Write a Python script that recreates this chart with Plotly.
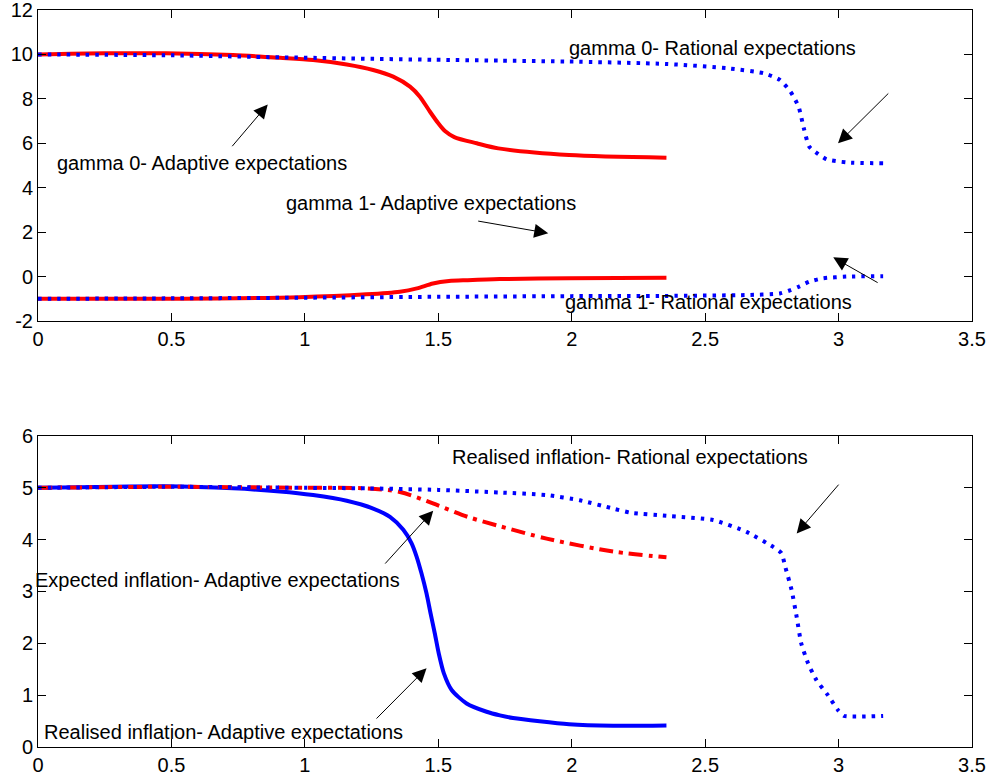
import plotly.graph_objects as go
from plotly.subplots import make_subplots

# ---------- top panel data ----------
g0_ad_x = [0, 0.25, 0.48, 0.73, 0.907, 1.031, 1.157, 1.256, 1.331, 1.394, 1.431, 1.469, 1.50,
           1.525, 1.56, 1.644, 1.725, 1.99, 2.355]
g0_ad_y = [10.0, 10.05, 10.05, 9.97, 9.85, 9.75, 9.55, 9.30, 9.0, 8.55, 8.10, 7.42, 6.9,
           6.55, 6.28, 6.0, 5.77, 5.47, 5.35]

g0_re_x = [0, 0.5, 0.907, 1.481, 1.73, 1.99, 2.355, 2.59, 2.72, 2.78, 2.82, 2.85, 2.87, 2.89, 2.92, 2.955, 3.03, 3.167]
g0_re_y = [10.0, 9.96, 9.87, 9.76, 9.72, 9.68, 9.57, 9.37, 9.15, 8.85, 8.32, 7.65, 6.67, 5.85, 5.55, 5.28, 5.14, 5.1]

g1_ad_x = [0, 0.5, 0.98, 1.23, 1.356, 1.42, 1.48, 1.54, 1.61, 1.73, 1.99, 2.355]
g1_ad_y = [-1.0, -1.0, -0.93, -0.8, -0.68, -0.53, -0.31, -0.2, -0.16, -0.11, -0.08, -0.05]

g1_re_x = [0, 0.5, 1.0, 1.5, 2.0, 2.355, 2.655, 2.78, 2.82, 2.85, 2.89, 2.94, 3.03, 3.167]
g1_re_y = [-1.0, -0.98, -0.95, -0.91, -0.88, -0.87, -0.83, -0.76, -0.61, -0.46, -0.23, -0.08, 0.0, 0.02]

# ---------- bottom panel data ----------
ri_ad_x = [0, 0.48, 0.73, 0.907, 1.031, 1.157, 1.256, 1.319, 1.369, 1.40, 1.419, 1.437, 1.456,
           1.471, 1.487, 1.502, 1.521, 1.550, 1.606, 1.681, 1.731, 1.78, 1.99, 2.155, 2.355]
ri_ad_y = [5.0, 5.03, 4.99, 4.93, 4.86, 4.75, 4.60, 4.44, 4.19, 3.93, 3.67, 3.35, 2.96,
           2.58, 2.19, 1.80, 1.42, 1.10, 0.84, 0.68, 0.61, 0.56, 0.44, 0.41, 0.415]

ei_ad_x = [0, 0.5, 1.0, 1.23, 1.356, 1.48, 1.61, 1.73, 1.906, 2.155, 2.355]
ei_ad_y = [5.0, 5.02, 5.0, 4.99, 4.92, 4.70, 4.44, 4.26, 4.02, 3.77, 3.66]

ri_re_x = [0, 0.5, 1.0, 1.23, 1.5, 1.73, 1.906, 2.03, 2.155, 2.22, 2.355, 2.53, 2.655, 2.755,
           2.786, 2.80, 2.824, 2.843, 2.86, 2.886, 2.917, 2.96, 2.998, 3.02, 3.167]
ri_re_y = [5.0, 5.02, 5.0, 4.99, 4.96, 4.91, 4.86, 4.76, 4.6, 4.52, 4.46, 4.38, 4.15, 3.86,
           3.74, 3.48, 3.03, 2.51, 2.0, 1.61, 1.29, 1.0, 0.71, 0.6, 0.6]

x_ticks = [0, 0.5, 1, 1.5, 2, 2.5, 3, 3.5]
x_tick_text = ["0", "0.5", "1", "1.5", "2", "2.5", "3", "3.5"]
top_y_ticks = [-2, 0, 2, 4, 6, 8, 10, 12]
top_y_text = ["-2", "0", "2", "4", "6", "8", "10", "12"]
bot_y_ticks = [0, 1, 2, 3, 4, 5, 6]
bot_y_text = ["0", "1", "2", "3", "4", "5", "6"]

# labels: (text, x, y)
top_labels = [
    ("gamma 0- Rational expectations", 2.527, 10.29),
    ("gamma 0- Adaptive expectations", 0.616, 5.11),
    ("gamma 1- Adaptive expectations", 1.474, 3.31),
    ("gamma 1- Rational expectations", 2.514, -1.13),
]
# arrows: (tail x, tail y, head x, head y)
top_arrows = [
    (3.192, 8.31, 2.998, 6.0),
    (0.723, 5.80, 0.861, 7.75),
    (1.644, 2.51, 1.912, 1.95),
    (3.152, -0.31, 2.98, 0.865),
]
bot_labels = [
    ("Realised inflation- Rational expectations", 2.218, 5.60),
    ("Expected inflation- Adaptive expectations", 0.674, 3.23),
    ("Realised inflation- Adaptive expectations", 0.696, 0.29),
]
bot_arrows = [
    (3.005, 5.09, 2.843, 4.12),
    (1.296, 3.51, 1.481, 4.56),
    (1.263, 0.52, 1.456, 1.52),
]

RED = "#ff0000"
BLUE = "#0000ff"
FONT = "Liberation Sans, Arial, sans-serif"
FS = 20
DOT = "3.5px,6px"

fig = make_subplots(rows=2, cols=1, vertical_spacing=0.156)

fig.add_trace(go.Scatter(x=g0_ad_x, y=g0_ad_y, mode="lines",
                         line=dict(color=RED, width=4, shape="spline", smoothing=0.8)), row=1, col=1)
fig.add_trace(go.Scatter(x=g1_ad_x, y=g1_ad_y, mode="lines",
                         line=dict(color=RED, width=4, shape="spline", smoothing=0.8)), row=1, col=1)
fig.add_trace(go.Scatter(x=g0_re_x, y=g0_re_y, mode="lines",
                         line=dict(color=BLUE, width=4, dash=DOT, shape="spline", smoothing=0.6)), row=1, col=1)
fig.add_trace(go.Scatter(x=g1_re_x, y=g1_re_y, mode="lines",
                         line=dict(color=BLUE, width=4, dash=DOT, shape="spline", smoothing=0.6)), row=1, col=1)

fig.add_trace(go.Scatter(x=ri_ad_x, y=ri_ad_y, mode="lines",
                         line=dict(color=BLUE, width=4, shape="spline", smoothing=0.7)), row=2, col=1)
fig.add_trace(go.Scatter(x=ei_ad_x, y=ei_ad_y, mode="lines",
                         line=dict(color=RED, width=4, dash="14px,6px,4px,6px", shape="spline", smoothing=0.8)), row=2, col=1)
fig.add_trace(go.Scatter(x=ri_re_x, y=ri_re_y, mode="lines",
                         line=dict(color=BLUE, width=4, dash=DOT, shape="spline", smoothing=0.5)), row=2, col=1)

annotations = []
for (t, x, y) in top_labels:
    annotations.append(dict(text=t, x=x, y=y, xref="x", yref="y", showarrow=False,
                            font=dict(family=FONT, size=FS, color="black")))
for (ax, ay, x, y) in top_arrows:
    annotations.append(dict(text="", x=x, y=y, ax=ax, ay=ay, xref="x", yref="y",
                            axref="x", ayref="y", showarrow=True, arrowhead=2,
                            arrowsize=2.8, arrowwidth=1, arrowcolor="black", standoff=0))
for (t, x, y) in bot_labels:
    annotations.append(dict(text=t, x=x, y=y, xref="x2", yref="y2", showarrow=False,
                            font=dict(family=FONT, size=FS, color="black")))
for (ax, ay, x, y) in bot_arrows:
    annotations.append(dict(text="", x=x, y=y, ax=ax, ay=ay, xref="x2", yref="y2",
                            axref="x2", ayref="y2", showarrow=True, arrowhead=2,
                            arrowsize=2.8, arrowwidth=1, arrowcolor="black", standoff=0))

axis_common = dict(showline=True, linecolor="black", linewidth=1, mirror="ticks",
                   ticks="inside", ticklen=8, tickcolor="black", showgrid=False,
                   zeroline=False, automargin=False, ticklabeloverflow="allow",
                   tickfont=dict(family=FONT, size=FS, color="black"))

fig.update_xaxes(range=[0, 3.5], tickvals=x_ticks, ticktext=x_tick_text, **axis_common)
fig.update_yaxes(**axis_common)
fig.update_yaxes(range=[-2, 12], tickvals=top_y_ticks, ticktext=top_y_text, row=1, col=1)
fig.update_yaxes(range=[0, 6], tickvals=bot_y_ticks, ticktext=bot_y_text, row=2, col=1)
fig.update_layout(xaxis=dict(domain=[0, 1]), yaxis=dict(domain=[0.578, 1.0]),
                  yaxis2=dict(domain=[0.0, 0.422]))

fig.update_layout(width=990, height=780, showlegend=False,
                  margin=dict(l=38, r=18, t=10, b=33),
                  paper_bgcolor="white", plot_bgcolor="white",
                  annotations=annotations)

fig.write_html("out.html", config={"displayModeBar": False},
               post_script="document.body.style.margin='0';document.body.style.overflow='hidden';")
